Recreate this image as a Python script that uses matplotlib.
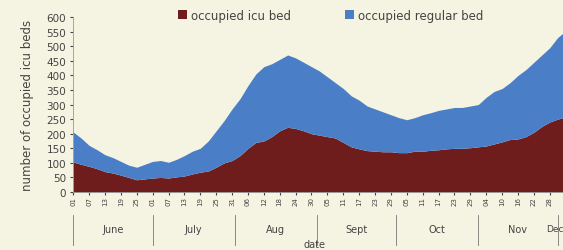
import numpy as np
import pandas as pd
import matplotlib
matplotlib.use("Agg")
import matplotlib.pyplot as plt

# one value every 3 days from 1 June
days = [0, 3, 6, 9, 12, 15, 18, 21, 24, 27, 30, 33, 36, 39, 42, 45, 48, 51, 54, 57,
        60, 63, 66, 69, 72, 75, 78, 81, 84, 87, 90, 93, 96, 99, 102, 105, 108, 111, 114, 117,
        120, 123, 126, 129, 132, 135, 138, 141, 144, 147, 150, 153, 156, 159, 162, 165, 168, 171, 174, 177,
        180, 183, 185]
icu_beds = [103, 95, 88, 80, 70, 65, 58, 50, 42, 45, 48, 50, 48, 52, 55, 62, 68, 72, 85, 100,
            108, 125, 150, 170, 175, 190, 210, 222, 218, 210, 200, 195, 190, 185, 170, 155, 148, 142, 140, 138,
            138, 135, 135, 140, 140, 143, 145, 148, 150, 150, 152, 155, 158, 165, 172, 180, 182, 190, 205, 225,
            240, 250, 255]
total_beds = [206, 185, 160, 145, 128, 118, 105, 92, 85, 95, 105, 108, 102, 112, 125, 140, 150, 175, 210, 245,
              285, 320, 365, 405, 430, 440, 455, 470, 460, 445, 430, 415, 395, 375, 355, 330, 315, 295, 285, 275,
              265, 255, 248, 255, 265, 272, 280, 285, 290, 290, 295, 300, 325, 345, 355, 375, 400, 420, 445, 470,
              495, 530, 545]

months = ["June", "July", "Aug", "Sept", "Oct", "Nov", "Dec"]
month_start = [0, 30, 61, 92, 122, 153, 183]

bg = "#f5f3e1"
red = "#6e1c1c"
blue = "#4a7fc8"
txt = "#444444"

x = np.array(days)
icu = np.array(icu_beds)
tot = np.array(total_beds)

fig = plt.figure(figsize=(5.63, 2.51), dpi=100, facecolor=bg)
ax = fig.add_axes([0.13, 0.231, 0.87, 0.697], facecolor=bg)

ax.fill_between(x, 0, icu, color=red, lw=0, label="occupied icu bed")
ax.fill_between(x, icu, tot, color=blue, lw=0, label="occupied regular bed")

ax.set_xlim(0, 185)
ax.set_ylim(0, 600)
ax.set_yticks(range(0, 601, 50))
ax.tick_params(axis="y", labelsize=7.5, length=2, colors=txt, pad=3)

# day ticks every 6 days
dates = pd.date_range("2020-06-01", periods=186, freq="D")
tick_days = list(range(0, 186, 6))
ax.set_xticks(tick_days)
ax.set_xticklabels([dates[d].strftime("%d") for d in tick_days], rotation=90, fontsize=5)
ax.tick_params(axis="x", length=2, colors=txt, pad=1)

for s in ["top", "right"]:
    ax.spines[s].set_visible(False)
for s in ["left", "bottom"]:
    ax.spines[s].set_color("#999999")
    ax.spines[s].set_linewidth(0.6)

# month grouping row below the day labels
trans = ax.get_xaxis_transform()
for m in month_start:
    ax.plot([m, m], [-0.13, -0.30], transform=trans, color="#777777", lw=0.6, clip_on=False)
bounds = month_start + [214]
for i, name in enumerate(months[:-1]):
    mid = (bounds[i] + bounds[i + 1]) / 2
    ax.text(mid, -0.21, name, transform=trans, ha="center", va="center", fontsize=7, color=txt)
ax.text(185.3, -0.21, months[-1], transform=trans, ha="right", va="center", fontsize=6.5, color=txt)
ax.text(91, -0.295, "date", transform=trans, ha="center", va="center", fontsize=7, color=txt)

ax.set_ylabel("number of occupied icu beds", fontsize=8.5, color=txt, labelpad=9)

fig.legend(*ax.get_legend_handles_labels(), loc="center left", bbox_to_anchor=(0.305, 0.936), ncol=2,
           frameon=False, fontsize=8.5, handlelength=0.8, handleheight=0.8, handletextpad=0.3,
           columnspacing=4.6, labelcolor=txt, borderpad=0)

fig.savefig("out.png", dpi=100, facecolor=bg)
